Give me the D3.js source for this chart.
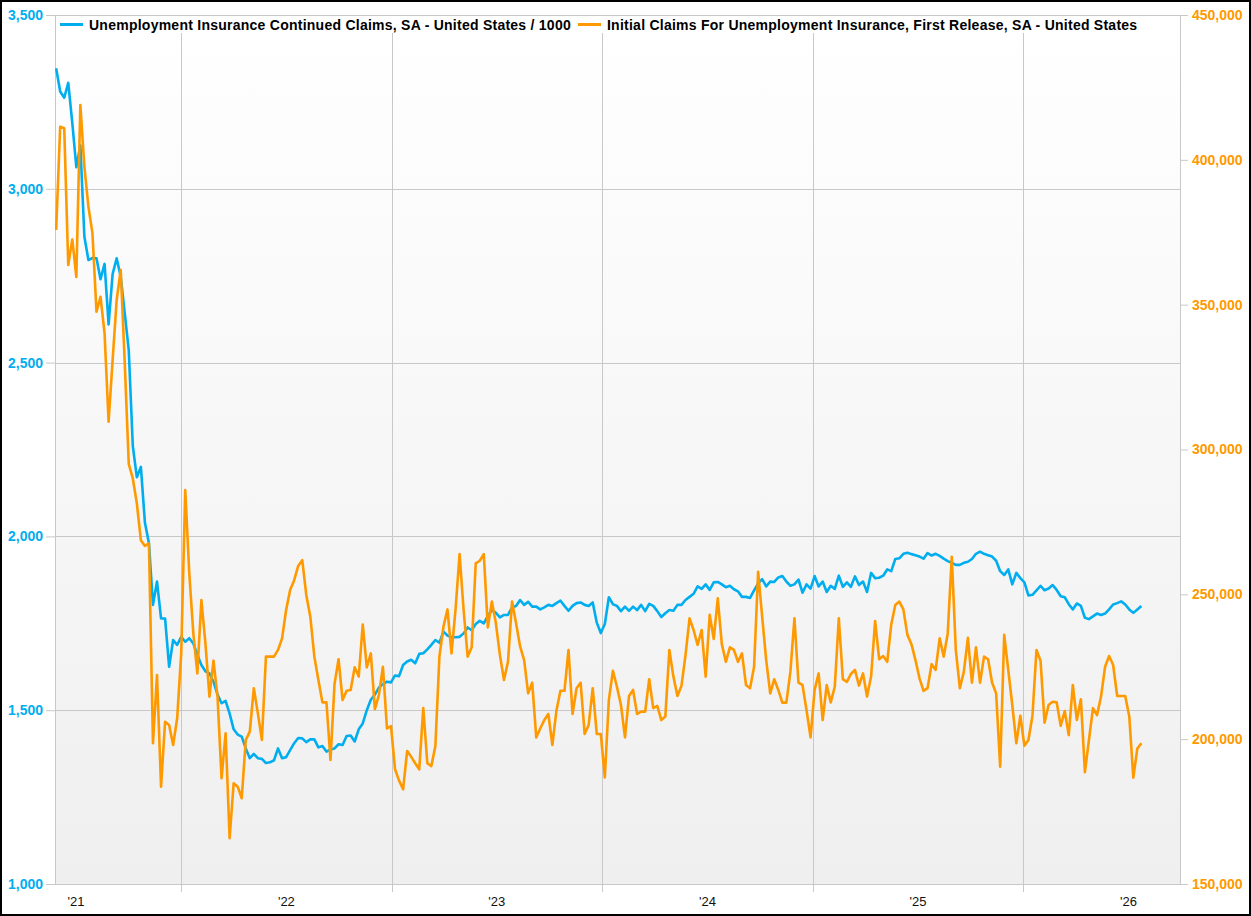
<!DOCTYPE html>
<html>
<head>
<meta charset="utf-8">
<title>Unemployment Claims</title>
<script src="https://cdn.jsdelivr.net/npm/d3@7"></script>
<style>
    body { margin: 0; background: #fff; }
    svg { display: block; font-family: "Liberation Sans", Arial, sans-serif; }
</style>
</head>
<body>
<svg id="chart" width="1251" height="916"></svg>
<script>

//////////////////////// Data ////////////////////////

//Week ending date of the first observation, one point per week after it
var firstWeek = new Date(2021, 4, 29);

//Unemployment Insurance Continued Claims, SA / 1000
var continuedClaims = [
    3347,3280,3262,3305,3190,3062,3125,2862,2795,2801,
    2800,2740,2784,2610,2755,2800,2747,2642,2535,2260,
    2170,2200,2040,1980,1803,1870,1764,1764,1625,1702,
    1688,1711,1697,1707,1692,1660,1630,1612,1606,1582,
    1545,1520,1527,1490,1445,1430,1424,1390,1362,1374,
    1362,1360,1348,1350,1356,1390,1362,1365,1385,1405,
    1420,1419,1408,1416,1416,1393,1397,1381,1387,1390,
    1402,1400,1426,1427,1410,1445,1462,1500,1530,1545,
    1565,1575,1582,1580,1600,1598,1630,1640,1645,1635,
    1662,1664,1675,1688,1702,1694,1726,1715,1710,1710,
    1711,1721,1738,1730,1748,1757,1750,1771,1788,1780,
    1767,1774,1774,1796,1800,1817,1803,1812,1798,1798,
    1790,1796,1803,1800,1808,1815,1800,1786,1800,1808,
    1810,1803,1800,1810,1752,1722,1748,1825,1805,1800,
    1785,1798,1786,1798,1788,1803,1785,1806,1800,1785,
    1768,1779,1788,1786,1803,1803,1817,1826,1835,1856,
    1849,1862,1846,1868,1869,1862,1854,1858,1848,1842,
    1826,1826,1823,1845,1865,1877,1856,1870,1869,1882,
    1886,1870,1858,1862,1876,1838,1862,1850,1886,1856,
    1870,1840,1858,1849,1887,1855,1868,1855,1885,1860,
    1870,1840,1895,1880,1881,1887,1905,1900,1935,1937,
    1950,1953,1949,1946,1942,1936,1952,1945,1950,1944,
    1936,1929,1924,1918,1918,1924,1927,1935,1950,1956,
    1950,1946,1942,1930,1900,1889,1905,1862,1895,1880,
    1868,1830,1832,1845,1858,1845,1850,1860,1846,1828,
    1825,1805,1790,1807,1800,1766,1762,1770,1778,1774,
    1778,1790,1804,1808,1813,1804,1790,1780,1790,1800
];

//Initial Claims, First Release, SA (thousands)
var initialClaimsK = [
    375.8,411.4,410.9,363.7,372.5,359.6,418.9,397.6,383.8,374.6,
    347.6,352.7,340.1,309.6,330.9,351.6,362,330,295,290,
    281.4,268.7,266.7,267.6,198.6,222.1,183.6,206,204.9,198,
    207.2,229.6,286,257.3,236.5,222.7,248,233.1,214.7,227.1,
    214.7,186.5,202,165.8,184.8,183.6,179.6,199.7,202.6,217.6,
    208.9,199.7,228.5,228.5,228.5,230.8,234.8,244.6,251.5,254.9,
    259.8,261.8,249.8,242.3,228.5,220.4,212.7,212.7,192.8,219,
    227.6,213.5,216.7,217,224.8,221.6,239.6,224.8,229.6,210.4,
    215.2,225,203.7,204.5,189.6,185.7,182.7,195.9,193.9,191.7,
    189.6,210.7,191.7,190.7,197.6,228.5,238.8,244.8,229.6,244.8,
    263.9,244.6,228.5,231.7,260.7,261.6,263.9,238.6,247.5,240,
    229,220.4,226.7,247.5,240,232,227.3,215.8,219.5,200.6,
    203.7,206.6,208.7,198,209.8,216.7,216.7,230.8,208.7,217.6,
    219.5,201.8,204.9,217.6,201.8,201.8,186.8,213.5,223.6,218.1,
    211.8,200.6,214.9,217,208.7,209.5,209.5,220.7,210.7,211.5,
    206.6,207.8,230.8,221.6,214.9,218.4,229,241.7,237.7,232.5,
    237.7,221.6,242.9,234.6,248.6,232.8,226.7,231.7,230.8,226.7,
    229.6,218.7,217.6,225,257.8,242.3,227.3,215.8,220.7,217,
    212.6,212.6,223.3,241.7,219.5,218.7,210,200.6,217,222.7,
    206.6,218.7,212.7,218.1,241.7,220.7,219.8,222.5,223.9,218.5,
    222.7,214.7,221.6,240.8,227.6,228.7,226.7,239.6,246.3,247.5,
    244.8,236,232.8,227.3,221,216.7,217.6,225.9,223.9,234.8,
    228.5,236.5,263,230.8,217.6,223.3,235,219.5,231.7,219.5,
    228.5,227.6,219.5,215.8,190.5,236,223.9,211.8,198.6,208.1,
    197.7,199.7,208.1,230.8,227.1,205.7,211.8,212.9,212.7,204.6,
    209.7,201.4,218.7,206.6,213.8,188.6,199.7,210.7,208.3,214.7,
    225,228.7,225.6,214.9,214.9,214.9,207.8,186.7,196.8,198.6
];

var leftTicks = [1000, 1500, 2000, 2500, 3000, 3500];
var rightTicks = [150000, 200000, 250000, 300000, 350000, 400000, 450000];
var years = [2021, 2022, 2023, 2024, 2025, 2026];
var legendItems = [
    ["Unemployment Insurance Continued Claims, SA - United States / 1000", "#00aeef"],
    ["Initial Claims For Unemployment Insurance, First Release, SA - United States", "#ff9900"]
];

//////////////////////////////////////////////////////

var blue = "#00aeef";
var orange = "#ff9900";
var grid = "#c8c8c8";

var plot = {left: 55, right: 1180, top: 15, bottom: 884};

var svg = d3.select("#chart");

//Build the weekly tables
var continued = continuedClaims.map(function(v, i) {
    return {date: d3.timeDay.offset(firstWeek, 7 * i), value: v};
});
var initial = initialClaimsK.map(function(v, i) {
    return {date: d3.timeDay.offset(firstWeek, 7 * i), value: v * 1000};
});

//Scales
var x = d3.scaleTime()
    .domain([new Date(2021, 4, 27), new Date(2026, 8, 30)])
    .range([plot.left, plot.right]);
var yLeft = d3.scaleLinear()
    .domain([1000, 3500])
    .range([plot.bottom, plot.top]);
var yRight = d3.scaleLinear()
    .domain([150000, 450000])
    .range([plot.bottom, plot.top]);

//Plot background
var defs = svg.append("defs");
var grad = defs.append("linearGradient")
    .attr("id", "bg")
    .attr("x1", 0).attr("y1", 0)
    .attr("x2", 0).attr("y2", 1);
grad.append("stop").attr("offset", "0%").attr("stop-color", "#ffffff");
grad.append("stop").attr("offset", "100%").attr("stop-color", "#efefef");

defs.append("clipPath")
    .attr("id", "clip")
    .append("rect")
    .attr("x", plot.left)
    .attr("y", plot.top)
    .attr("width", plot.right - plot.left)
    .attr("height", plot.bottom - plot.top);

svg.append("rect")
    .attr("x", plot.left)
    .attr("y", plot.top)
    .attr("width", plot.right - plot.left)
    .attr("height", plot.bottom - plot.top)
    .attr("fill", "url(#bg)");

//Vertical gridlines at year starts (with tick below axis)
var yearStarts = years.map(function(y) { return new Date(y, 0, 1); })
    .filter(function(d) { return x(d) > plot.left && x(d) < plot.right; });

svg.append("g")
    .selectAll("line")
    .data(yearStarts)
    .enter()
    .append("line")
    .attr("x1", function(d) { return Math.round(x(d)) + 0.5; })
    .attr("x2", function(d) { return Math.round(x(d)) + 0.5; })
    .attr("y1", plot.top)
    .attr("y2", plot.bottom + 8)
    .attr("stroke", grid);

//Plot edges
svg.append("g")
    .selectAll("line")
    .data([plot.left, plot.right])
    .enter()
    .append("line")
    .attr("x1", function(d) { return d + 0.5; })
    .attr("x2", function(d) { return d + 0.5; })
    .attr("y1", plot.top)
    .attr("y2", plot.bottom)
    .attr("stroke", grid);

//Legend box hides the gridlines behind it
svg.append("rect")
    .attr("x", plot.left + 1)
    .attr("y", plot.top + 1)
    .attr("width", 1092)
    .attr("height", 17)
    .attr("fill", "#fff");

//Horizontal gridlines from the left axis
svg.append("g")
    .selectAll("line")
    .data(leftTicks)
    .enter()
    .append("line")
    .attr("x1", plot.left)
    .attr("x2", function(d) {
        return (d == 1000 || d == 3500) ? plot.right + 8 : plot.right;
    })
    .attr("y1", function(d) { return Math.round(yLeft(d)) + 0.5; })
    .attr("y2", function(d) { return Math.round(yLeft(d)) + 0.5; })
    .attr("stroke", grid);

//Left axis
var leftAxis = svg.append("g")
    .attr("transform", "translate(" + plot.left + ",0)")
    .call(d3.axisLeft(yLeft)
        .tickValues(leftTicks)
        .tickSize(9)
        .tickPadding(3)
        .tickFormat(d3.format(",")));
leftAxis.select(".domain").remove();
leftAxis.selectAll("line").attr("stroke", grid);
leftAxis.selectAll("text")
    .attr("fill", blue)
    .style("font-size", "14px")
    .style("font-weight", "bold")
    .style("font-family", "\"Liberation Sans\", Arial, sans-serif");

//Right axis
var rightAxis = svg.append("g")
    .attr("transform", "translate(" + plot.right + ",0)")
    .call(d3.axisRight(yRight)
        .tickValues(rightTicks)
        .tickSize(8)
        .tickPadding(4)
        .tickFormat(d3.format(",")));
rightAxis.select(".domain").remove();
rightAxis.selectAll("line").attr("stroke", grid);
rightAxis.selectAll("text")
    .attr("fill", orange)
    .style("font-size", "14px")
    .style("font-weight", "bold")
    .style("font-family", "\"Liberation Sans\", Arial, sans-serif");

//Year labels centred in each year
svg.append("g")
    .selectAll("text")
    .data(years)
    .enter()
    .append("text")
    .attr("x", function(y) {
        return (x(new Date(y, 0, 1)) + x(new Date(y + 1, 0, 1))) / 2;
    })
    .attr("y", 906)
    .attr("text-anchor", "middle")
    .attr("fill", "#111")
    .style("font-size", "13px")
    .text(function(y) { return d3.timeFormat("'%y")(new Date(y, 0, 1)); });

//Series lines
var lineLeft = d3.line()
    .x(function(d) { return x(d.date); })
    .y(function(d) { return yLeft(d.value); });
var lineRight = d3.line()
    .x(function(d) { return x(d.date); })
    .y(function(d) { return yRight(d.value); });

var lines = svg.append("g").attr("clip-path", "url(#clip)");
lines.append("path")
    .datum(continued)
    .attr("d", lineLeft)
    .attr("fill", "none")
    .attr("stroke", blue)
    .attr("stroke-width", 2.6)
    .attr("stroke-linejoin", "round");
lines.append("path")
    .datum(initial)
    .attr("d", lineRight)
    .attr("fill", "none")
    .attr("stroke", orange)
    .attr("stroke-width", 2.6)
    .attr("stroke-linejoin", "round");

//Legend
var lx = 60;
legendItems.forEach(function(item) {
    svg.append("line")
        .attr("x1", lx)
        .attr("x2", lx + 23)
        .attr("y1", 24.5)
        .attr("y2", 24.5)
        .attr("stroke", item[1])
        .attr("stroke-width", 3);
    var t = svg.append("text")
        .attr("x", lx + 29)
        .attr("y", 29.5)
        .attr("fill", "#000")
        .style("font-size", "14px")
        .style("font-weight", "bold")
        .style("letter-spacing", "0.25px")
        .text(item[0]);
    lx = lx + 29 + t.node().getComputedTextLength() + 7;
});

//Outer frame
svg.append("rect")
    .attr("x", 1)
    .attr("y", 1)
    .attr("width", 1249)
    .attr("height", 914)
    .attr("fill", "none")
    .attr("stroke", "#000")
    .attr("stroke-width", 2);

</script>
</body>
</html>
